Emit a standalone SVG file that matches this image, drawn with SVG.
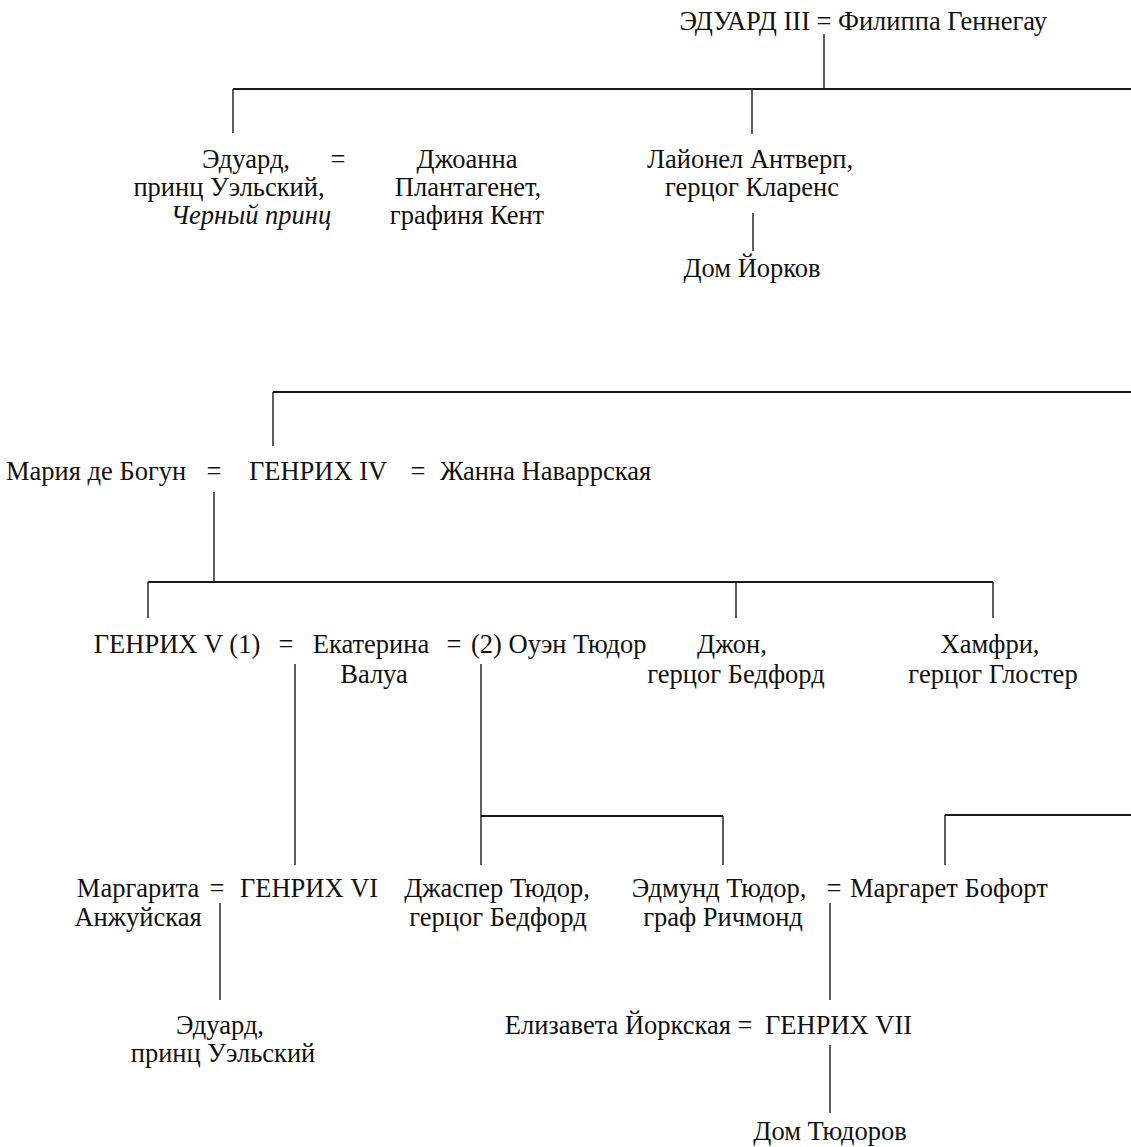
<svg xmlns="http://www.w3.org/2000/svg" width="1131" height="1147" viewBox="0 0 1131 1147">
<style>
text{font-family:"Liberation Serif","Times New Roman",serif;font-size:26.5px;fill:#111;}
.m{text-anchor:middle}
.e{text-anchor:end}
.i{font-style:italic}
.c line{stroke:#1a1a1a;stroke-width:1.4;fill:none}
.c line.h{stroke-width:1.8}
</style>
<rect width="1131" height="1147" fill="#fff"/>
<g class="c" id="connectors">
<line x1="824" y1="34" x2="824" y2="89"/>
<line class="h" x1="233" y1="89" x2="1131" y2="89"/>
<line x1="233" y1="89" x2="233" y2="133"/>
<line x1="752" y1="89" x2="752" y2="134"/>
<line x1="753" y1="213" x2="753" y2="251"/>
<line class="h" x1="273" y1="392" x2="1131" y2="392"/>
<line x1="273" y1="392" x2="273" y2="446"/>
<line x1="214" y1="492" x2="214" y2="582"/>
<line class="h" x1="148" y1="582" x2="993" y2="582"/>
<line x1="148" y1="582" x2="148" y2="618"/>
<line x1="736" y1="582" x2="736" y2="618"/>
<line x1="993" y1="582" x2="993" y2="618"/>
<line x1="295" y1="664" x2="295" y2="865"/>
<line x1="481" y1="664" x2="481" y2="865"/>
<line class="h" x1="481" y1="816" x2="723" y2="816"/>
<line x1="723" y1="816" x2="723" y2="865"/>
<line class="h" x1="945" y1="815" x2="1131" y2="815"/>
<line x1="945" y1="815" x2="945" y2="865"/>
<line x1="220" y1="903" x2="220" y2="1000"/>
<line x1="830" y1="903" x2="830" y2="1000"/>
<line x1="830" y1="1045" x2="830" y2="1113"/>
</g>
<g id="edward3">
<text class="e" x="810" y="30">ЭДУАРД III</text>
<text class="m" x="824" y="30">=</text>
<text x="838" y="30">Филиппа Геннегау</text>
</g>
<g id="black-prince">
<text class="m" x="246" y="168">Эдуард,</text>
<text class="m" x="229" y="196">принц Уэльский,</text>
<text class="m i" x="251" y="224">Черный принц</text>
<text class="m" x="338" y="168">=</text>
</g>
<g id="joanna">
<text class="m" x="467" y="168">Джоанна</text>
<text class="m" x="468" y="196">Плантагенет,</text>
<text class="m" x="467" y="224">графиня Кент</text>
</g>
<g id="lionel">
<text class="m" x="750" y="168">Лайонел Антверп,</text>
<text class="m" x="752" y="196">герцог Кларенс</text>
</g>
<g id="york">
<text class="m" x="752" y="277">Дом Йорков</text>
</g>
<g id="henry4">
<text x="6" y="480">Мария де Богун</text>
<text class="m" x="214" y="480">=</text>
<text class="m" x="318" y="480">ГЕНРИХ IV</text>
<text class="m" x="418" y="480">=</text>
<text x="440" y="480">Жанна Наваррская</text>
</g>
<g id="henry5">
<text class="m" x="177" y="653">ГЕНРИХ V (1)</text>
<text class="m" x="286" y="653">=</text>
</g>
<g id="catherine">
<text class="m" x="371" y="653">Екатерина</text>
<text class="m" x="374" y="683">Валуа</text>
<text class="m" x="454" y="653">=</text>
</g>
<g id="owen">
<text x="471" y="653">(2) Оуэн Тюдор</text>
</g>
<g id="john">
<text class="m" x="732" y="653">Джон,</text>
<text class="m" x="736" y="683">герцог Бедфорд</text>
</g>
<g id="humphrey">
<text class="m" x="990" y="653">Хамфри,</text>
<text class="m" x="993" y="683">герцог Глостер</text>
</g>
<g id="margaret-anjou">
<text class="m" x="138" y="897">Маргарита</text>
<text class="m" x="138" y="926">Анжуйская</text>
<text class="m" x="217" y="897">=</text>
</g>
<g id="henry6">
<text class="m" x="309" y="897">ГЕНРИХ VI</text>
</g>
<g id="jasper">
<text class="m" x="497" y="897">Джаспер Тюдор,</text>
<text class="m" x="498" y="926">герцог Бедфорд</text>
</g>
<g id="edmund">
<text class="m" x="719" y="897">Эдмунд Тюдор,</text>
<text class="m" x="723" y="926">граф Ричмонд</text>
<text class="m" x="834" y="897">=</text>
</g>
<g id="margaret-beaufort">
<text x="850" y="897">Маргарет Бофорт</text>
</g>
<g id="edward-wales">
<text class="m" x="220" y="1034">Эдуард,</text>
<text class="m" x="223" y="1062">принц Уэльский</text>
</g>
<g id="henry7">
<text class="e" x="731" y="1034">Елизавета Йоркская</text>
<text class="m" x="745" y="1034">=</text>
<text x="765" y="1034">ГЕНРИХ VII</text>
</g>
<g id="tudor">
<text class="m" x="830" y="1140">Дом Тюдоров</text>
</g>
</svg>
